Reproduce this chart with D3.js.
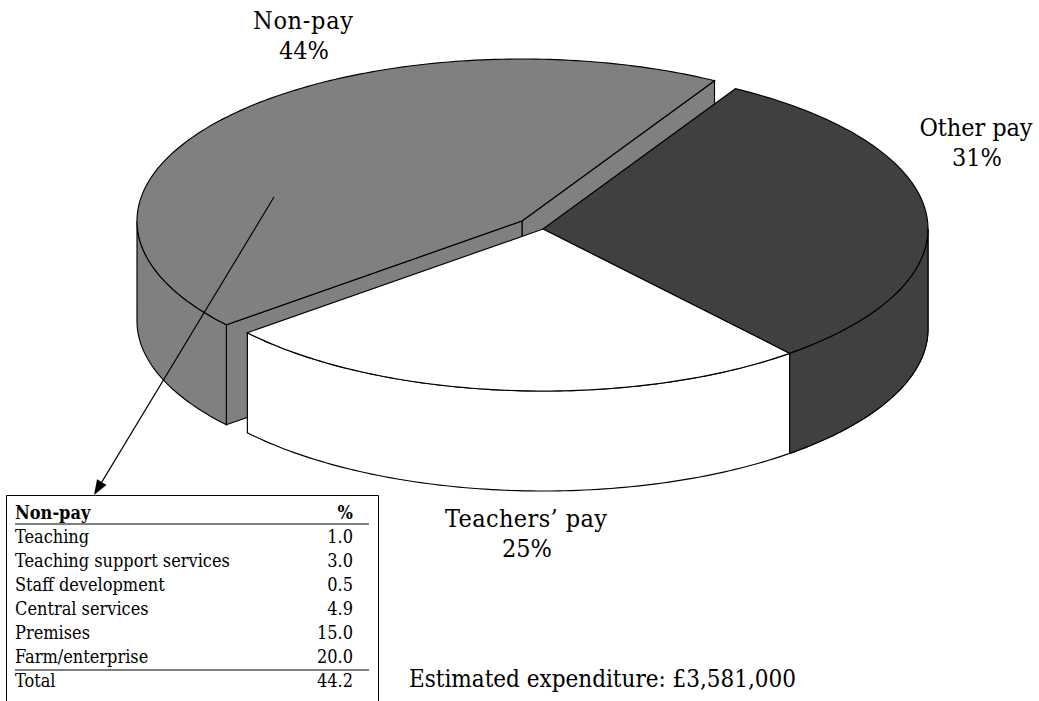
<!DOCTYPE html>
<html><head><meta charset="utf-8">
<script src="https://cdnjs.cloudflare.com/ajax/libs/d3/7.8.5/d3.min.js"></script>
<style>html,body{margin:0;padding:0;background:#fff;overflow:hidden}svg{display:block}text{font-family:"DejaVu Serif Condensed","DejaVu Serif",serif;fill:#000}</style>
</head><body><svg id="c" width="1039" height="701"></svg>
<script>
const sliceNames = ["Other pay", "Teachers\u2019 pay", "Non-pay"];
const sliceValues = [30.6, 25.0, 44.4];
const sliceColors = ["#404040", "#ffffff", "#808080"];
const tableRows = ["Teaching", "Teaching support services", "Staff development", "Central services", "Premises", "Farm/enterprise"];
const tableValues = ["1.0", "3.0", "0.5", "4.9", "15.0", "20.0"];
const tableHeader = ["Non-pay", "%"];
const tableTotal = ["Total", "44.2"];
const footnote = "Estimated expenditure: \u00a33,581,000";

const W = 1039, H = 701;
const svg = d3.select("#c");
const deg = Math.PI / 180;
const rx = 385, ry = 162, depth = 100;
const center = [543, 229], shifted = [522, 221];

const pie = d3.pie().value(d => d).sort(null).startAngle(30 * deg).endAngle((30 + 360) * deg);
const arcs = pie(sliceValues);

const pt = (c, a, dz = 0) => [c[0] + rx * Math.sin(a), c[1] - ry * Math.cos(a) + dz];
const sample = (a0, a1) => { const n = Math.ceil(Math.abs(a1 - a0) / (1 * deg)); return d3.range(n + 1).map(i => a0 + (a1 - a0) * i / n); };
const line = d3.line();
const draw = (pts, fill, close = true) => svg.append("path").attr("d", line(pts) + (close ? "Z" : ""))
  .attr("fill", fill).attr("stroke", "#000").attr("stroke-width", 1.15).attr("stroke-linejoin", "miter");

function topFace(c, d, fill) { draw([c, ...sample(d.startAngle, d.endAngle).map(a => pt(c, a))], fill); }
function wall(c, a0, a1, fill) {
  const s = sample(a0, a1);
  draw([...s.map(a => pt(c, a)), ...s.slice().reverse().map(a => pt(c, a, depth))], fill);
}
function cutFace(c, a, fill) {
  const p = pt(c, a);
  draw([c, p, [p[0], p[1] + depth], [c[0], c[1] + depth]], fill);
}

const [other, teach, nonpay] = arcs;
// Non-pay (pulled out, drawn first)
cutFace(shifted, nonpay.endAngle, sliceColors[2]);
cutFace(shifted, nonpay.startAngle, sliceColors[2]);
wall(shifted, nonpay.startAngle, 270 * deg, sliceColors[2]);
topFace(shifted, nonpay, sliceColors[2]);
// Other pay
wall(center, 90 * deg, other.endAngle, sliceColors[0]);
topFace(center, other, sliceColors[0]);
// Teachers' pay
wall(center, teach.startAngle, teach.endAngle, sliceColors[1]);
topFace(center, teach, sliceColors[1]);
// re-stroke the dark wall's edge
wall(center, 90 * deg, other.endAngle, sliceColors[0]);

// leader arrow
const from = [274, 197], tip = [94, 495];
const ang = Math.atan2(tip[1] - from[1], tip[0] - from[0]);
const hl = 15, hw = 5.5;
const base = [tip[0] - hl * Math.cos(ang), tip[1] - hl * Math.sin(ang)];
svg.append("path").attr("d", line([from, base])).attr("stroke", "#000").attr("stroke-width", 1.15).attr("fill", "none");
svg.append("path").attr("d", line([tip,
  [base[0] - hw * Math.sin(ang), base[1] + hw * Math.cos(ang)],
  [base[0] + hw * Math.sin(ang), base[1] - hw * Math.cos(ang)]]) + "Z").attr("fill", "#000");

// slice labels
const labelPos = { "Non-pay": [303, 29, 100], "Other pay": [976, 136, 113], "Teachers\u2019 pay": [526, 527, 162] };
const fs = 25;
sliceNames.forEach((n, i) => {
  const [x, y, w] = labelPos[n];
  svg.append("text").attr("x", x).attr("y", y).attr("text-anchor", "middle").attr("font-size", fs)
    .attr("textLength", w).attr("lengthAdjust", "spacing").text(n);
  svg.append("text").attr("x", x + 1).attr("y", y + 30).attr("text-anchor", "middle").attr("font-size", fs)
    .text(d3.format(".0f")(sliceValues[i]) + "%");
});
svg.append("text").attr("x", 409).attr("y", 687).attr("font-size", 24)
  .attr("textLength", 387).attr("lengthAdjust", "spacing").text(footnote);

// table
svg.append("path").attr("d", line([[6.5, H], [6.5, 495.5], [378.5, 495.5], [378.5, H]])).attr("fill", "none").attr("stroke", "#000");
const ty = d3.scalePoint().domain(d3.range(tableRows.length + 2)).range([519, 687]);
const tfs = 18, tx0 = 15, tx1 = 353;
const row = (i, a, b, bold) => {
  svg.append("text").attr("x", tx0).attr("y", ty(i)).attr("font-size", tfs).attr("font-weight", bold ? 700 : 400).text(a);
  svg.append("text").attr("x", tx1).attr("y", ty(i)).attr("text-anchor", "end").attr("font-size", tfs).attr("font-weight", bold ? 700 : 400).text(b);
};
row(0, tableHeader[0], tableHeader[1], true);
tableRows.forEach((r, i) => row(i + 1, r, tableValues[i], false));
row(tableRows.length + 1, tableTotal[0], tableTotal[1], false);
[524, 670].forEach(y => svg.append("line").attr("x1", 15).attr("x2", 369).attr("y1", y).attr("y2", y).attr("stroke", "#000"));
</script></body></html>
